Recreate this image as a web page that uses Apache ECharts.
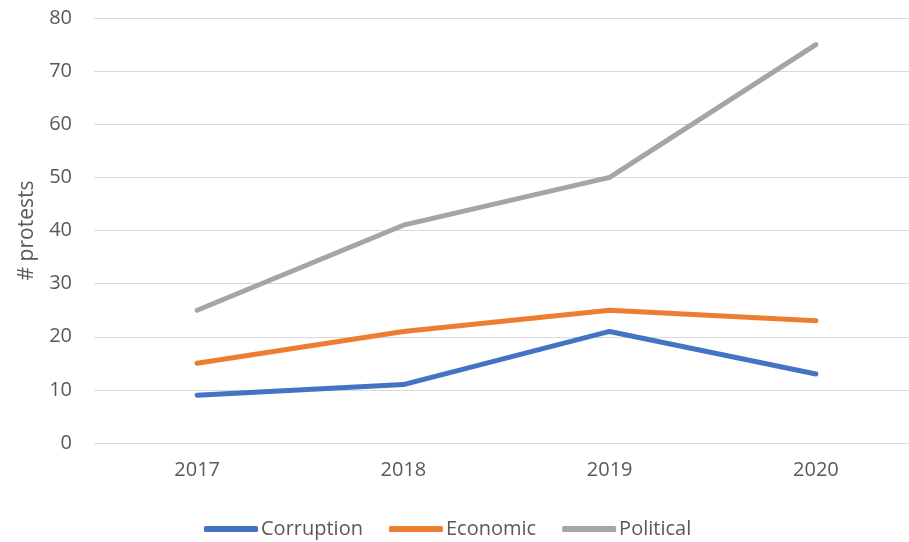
<!DOCTYPE html>
<html><head><meta charset="utf-8">
<script src="https://cdn.jsdelivr.net/npm/echarts@6/dist/echarts.min.js"></script>
<style>html,body{margin:0;padding:0;background:#fff;overflow:hidden}#c{width:922px;height:542px}</style>
</head><body><div id="c"></div>
<script>
const years = ['2017','2018','2019','2020'];
const corruption = [9, 11, 21, 13];
const economic = [15, 21, 25, 23];
const political = [25, 41, 50, 75];
const yTicks = [0, 80, 10];

const chart = echarts.init(document.getElementById('c'));
const font = '"Open Sans", "Noto Sans", sans-serif';
const mk = (name, data, color) => ({
  name, type: 'line', data, symbol: 'none', smooth: false,
  lineStyle: { width: 5, color, cap: 'round', join: 'round' }, itemStyle: { color }
});
chart.setOption({
  animation: false,
  grid: { left: 94, top: 18, width: 825, height: 425 },
  xAxis: {
    type: 'category', data: years, boundaryGap: true,
    axisLine: { show: false }, axisTick: { show: false },
    axisLabel: { color: '#595959', fontSize: 20, fontFamily: font, margin: 17 }
  },
  yAxis: {
    type: 'value', min: yTicks[0], max: yTicks[1], interval: yTicks[2],
    name: '# protests', nameLocation: 'middle', nameGap: 56, nameRotate: 90,
    nameTextStyle: { color: '#595959', fontSize: 21, fontFamily: font },
    axisLine: { show: false }, axisTick: { show: false },
    axisLabel: { color: '#595959', fontSize: 20, fontFamily: font, margin: 22 },
    splitLine: { lineStyle: { color: '#d9d9d9', width: 1 } }
  },
  legend: {
    top: 514, left: 199, itemWidth: 54, itemHeight: 6, itemGap: 26,
    icon: 'roundRect',
    textStyle: { color: '#595959', fontSize: 20, fontFamily: font, padding: [0,0,0,-2] },
    data: ['Corruption','Economic','Political']
  },
  series: [
    mk('Corruption', corruption, '#4472C4'),
    mk('Economic', economic, '#ED7D31'),
    mk('Political', political, '#A5A5A5')
  ]
});
</script></body></html>
